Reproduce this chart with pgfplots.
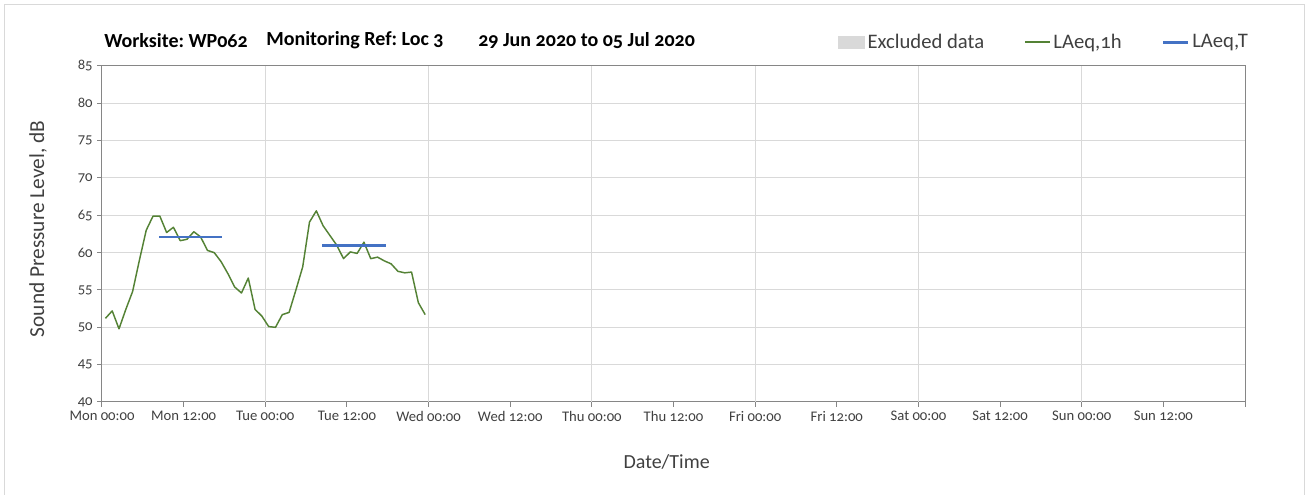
\documentclass[border=0pt]{standalone}
\usepackage{fontspec}
\setmainfont{Carlito}[Numbers=OldStyle]
\usepackage{pgfplots}
\pgfplotsset{compat=1.18}
\usetikzlibrary{calc}
\definecolor{lgreen}{RGB}{84,130,53}
\definecolor{lblue}{RGB}{68,114,196}
\definecolor{gridc}{RGB}{217,217,217}
\definecolor{axc}{RGB}{134,134,134}
\definecolor{txt}{RGB}{64,64,64}
\definecolor{excl}{RGB}{217,217,217}
\frenchspacing
\begin{document}
\begin{tikzpicture}
\begin{axis}[name=ax, at={(0,0)}, anchor=south west,
  scale only axis, width=857.25pt, height=252pt,
  xmin=0, xmax=168, ymin=40, ymax=85,
  xtick={0,12,...,168},
  xticklabels={Mon 00:00,Mon 12:00,Tue 00:00,Tue 12:00,Wed 00:00,Wed 12:00,Thu 00:00,Thu 12:00,Fri 00:00,Fri 12:00,Sat 00:00,Sat 12:00,Sun 00:00,Sun 12:00,{}},
  ytick={40,45,...,85},
  extra x ticks={24,48,...,144}, extra x tick labels={},
  extra x tick style={xmajorgrids=true, major tick length=0pt},
  ymajorgrids, grid style={gridc, line width=0.75pt},
  axis line style={axc, line width=0.75pt},
  tick style={axc, line width=0.75pt},
  tick align=outside, major tick length=3.5pt,
  xtick pos=bottom, ytick pos=left,
  tick label style={font=\fontsize{11}{13}\selectfont, text=txt},
  /pgf/number format/assume math mode=true,
  xlabel={Date/Time}, ylabel={Sound Pressure Level, dB},
  label style={text=txt},
  xlabel style={at={(axis description cs:0.494,-0.1786)}, anchor=center, font=\fontsize{15}{17}\selectfont},
  ylabel style={at={(axis description cs:-0.056,0.515)}, anchor=center, font=\fontsize{16}{18}\selectfont},
  legend columns=3,
  legend style={draw=none, fill=none, at={(axis description cs:0.644,1.071)}, anchor=west,
    font=\fontsize{15.5}{17}\selectfont, text=txt, inner sep=0pt,
    /tikz/every even column/.append style={column sep=28pt}},
  legend cell align=left,
  legend image code/.code={\draw[#1] (0pt,0pt) -- (18.75pt,0pt);},
  clip=false,
]
\addlegendimage{legend image code/.code={\fill[excl] (0pt,-4.5pt) rectangle (19.5pt,4.5pt);}}
\addlegendentry{Excluded data}
\addplot[lgreen, line width=1.1pt, line join=round] coordinates {
(0.5,51.2) (1.5,52.2) (2.5,49.8) (3.5,52.4) (4.5,54.8) (5.5,59.0) (6.5,63.0) (7.5,64.9)
(8.5,64.9) (9.5,62.7) (10.5,63.4) (11.5,61.6) (12.5,61.8) (13.5,62.8) (14.5,62.1) (15.5,60.3)
(16.5,60.0) (17.5,58.8) (18.5,57.2) (19.5,55.4) (20.5,54.6) (21.5,56.6) (22.5,52.4) (23.5,51.5)
(24.5,50.1) (25.5,50.0) (26.5,51.7) (27.5,52.0) (28.5,55.0) (29.5,58.1) (30.5,64.1) (31.5,65.6)
(32.5,63.6) (33.5,62.3) (34.5,61.0) (35.5,59.2) (36.5,60.1) (37.5,59.9) (38.5,61.4) (39.5,59.2)
(40.5,59.4) (41.5,58.9) (42.5,58.5) (43.5,57.5) (44.5,57.3) (45.5,57.4) (46.5,53.3) (47.5,51.7)
};
\addlegendentry{LAeq,1h}
\addplot[lblue, line width=2.2pt, forget plot] coordinates {(8.4,62.1) (17.7,62.1)};
\addplot[lblue, line width=2.2pt] coordinates {(32.4,60.9) (41.7,60.9)};
\addlegendentry{LAeq,T}
\node[anchor=west, inner sep=0pt, font=\bfseries\fontsize{15}{17}\selectfont, text=black] at (axis description cs:0.00175,1.077) {Worksite: WP062};
\node[anchor=west, inner sep=0pt, font=\bfseries\fontsize{15}{17}\selectfont, text=black] at (axis description cs:0.1435,1.077) {Monitoring Ref: Loc 3};
\node[anchor=west, inner sep=0pt, font=\bfseries\fontsize{15}{17}\selectfont, text=black] at (axis description cs:0.329,1.077) {29 Jun 2020 to 05 Jul 2020};
\end{axis}
\draw[gridc, line width=0.75pt] ($(ax.south west)+(-73.1pt,-75pt)$) -- ($(ax.south west)+(-73.1pt,297.75pt)$) -- ($(ax.south west)+(901.5pt,297.75pt)$) -- ($(ax.south west)+(901.5pt,-75pt)$);
\pgfresetboundingbox
\useasboundingbox ($(ax.south west)+(-76.5pt,-69.75pt)$) rectangle ($(ax.south west)+(905.25pt,301.5pt)$);
\end{tikzpicture}
\end{document}
